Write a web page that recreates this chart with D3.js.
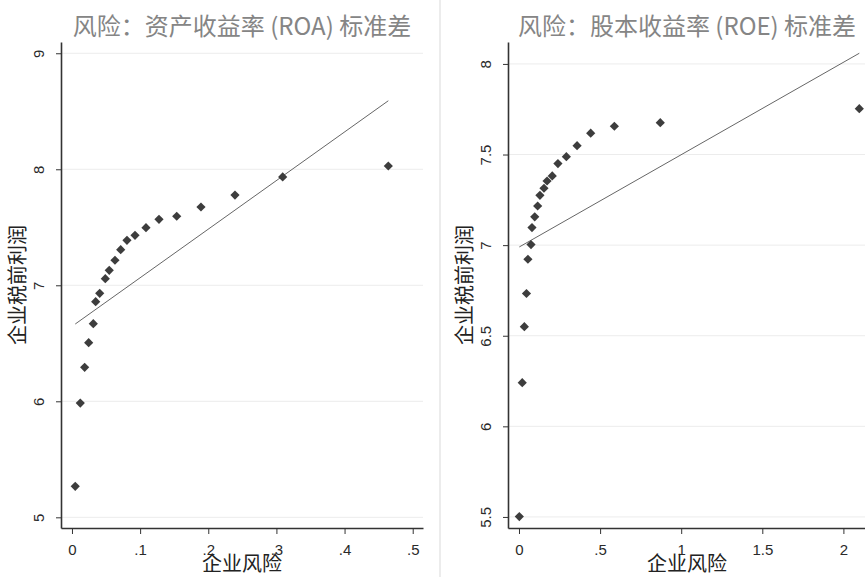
<!DOCTYPE html>
<html>
<head>
<meta charset="utf-8">
<script src="https://cdn.jsdelivr.net/npm/d3@7"></script>
<style>
  body { margin: 0; background: #fff; }
  svg { display: block; }
</style>
</head>
<body>
<svg id="chart" width="865" height="577"></svg>
<script>
// binned scatter
const roaRisk = [0.0048, 0.0122, 0.0186, 0.0245, 0.0313, 0.0348, 0.0407, 0.0489, 0.0547, 0.0631,
  0.0715, 0.0807, 0.0925, 0.1086, 0.1277, 0.1537, 0.1893, 0.2392, 0.3092, 0.4642];
const roaProfit = [5.267, 5.985, 6.293, 6.505, 6.669, 6.859, 6.931, 7.057, 7.129, 7.216,
  7.307, 7.388, 7.431, 7.497, 7.569, 7.595, 7.675, 7.778, 7.934, 8.028];
const roaFit = [6.646, 4.189]; // intercept, slope

const roeRisk = [0.002, 0.020, 0.033, 0.046, 0.055, 0.074, 0.080, 0.097, 0.115, 0.129,
  0.154, 0.173, 0.205, 0.240, 0.292, 0.358, 0.442, 0.588, 0.871, 2.098];
const roeProfit = [5.502, 6.241, 6.550, 6.733, 6.922, 7.003, 7.097, 7.156, 7.216, 7.275,
  7.314, 7.354, 7.382, 7.450, 7.488, 7.549, 7.618, 7.656, 7.676, 7.753];
const roeFit = [6.989, 0.510];

const titles = ["风险：资产收益率 (ROA) 标准差", "风险：股本收益率 (ROE) 标准差"];
const roaXTicks = [0, 0.1, 0.2, 0.3, 0.4, 0.5];
const roaYTicks = [5, 6, 7, 8, 9];
const roeXTicks = [0, 0.5, 1, 1.5, 2];
const roeYTicks = [5.5, 6, 6.5, 7, 7.5, 8];
const xTitle = "企业风险";
const yTitle = "企业税前利润";

const svg = d3.select("#chart");
const cjk = "'Noto Sans CJK SC', sans-serif";
const num = "'Liberation Sans', Arial, sans-serif";

// thin grey gap between the two graphs
svg.append("rect").attr("x", 439).attr("y", 0).attr("width", 2).attr("height", 577).attr("fill", "#ececec");

function fmt(d) {
  if (d === 0) return "0";
  return String(d).replace(/^0\./, ".");
}

function panel(o) {
  const x = d3.scaleLinear().domain(o.xDom).range([o.left, o.right]);
  const y = d3.scaleLinear().domain(o.yDom).range([528, 42]);
  const g = svg.append("g");

  // horizontal grid
  g.selectAll(".grid").data(o.yTicks).join("line")
    .attr("x1", o.left).attr("x2", o.right)
    .attr("y1", d => y(d)).attr("y2", d => y(d))
    .attr("stroke", "#ececec").attr("stroke-width", 1);

  // y axis, labels turned on their side like stata does
  const ya = g.append("g").attr("transform", `translate(${o.left},0)`)
    .call(d3.axisLeft(y).tickValues(o.yTicks).tickFormat(fmt).tickSize(5).tickSizeOuter(0));
  ya.select(".domain").attr("stroke", "#333").attr("stroke-width", 1.6);
  ya.selectAll(".tick line").attr("stroke", "#333");
  ya.selectAll(".tick text")
    .attr("x", null).attr("dy", null)
    .attr("transform", "translate(-22,0) rotate(-90)")
    .attr("dy", "0.36em")
    .attr("text-anchor", "middle")
    .style("font-family", num).style("font-size", "15px").attr("fill", "#2a2a2a");

  // x axis
  const xa = g.append("g").attr("transform", "translate(0,528)")
    .call(d3.axisBottom(x).tickValues(o.xTicks).tickFormat(fmt).tickSize(6).tickSizeOuter(0));
  xa.select(".domain").attr("stroke", "#333").attr("stroke-width", 1.6);
  xa.selectAll(".tick line").attr("stroke", "#333");
  xa.selectAll(".tick text").attr("y", 16)
    .style("font-family", num).style("font-size", "15px").attr("fill", "#2a2a2a");

  // fitted line
  const x0 = d3.min(o.xs), x1 = d3.max(o.xs);
  g.append("line")
    .attr("x1", x(x0)).attr("y1", y(o.fit[0] + o.fit[1] * x0))
    .attr("x2", x(x1)).attr("y2", y(o.fit[0] + o.fit[1] * x1))
    .attr("stroke", "#666").attr("stroke-width", 1);

  // diamonds
  const r = 4.6;
  g.selectAll(".pt").data(o.xs.map((d, i) => [d, o.ys[i]])).join("path")
    .attr("d", `M0,${-r}L${r},0L0,${r}L${-r},0Z`)
    .attr("transform", d => `translate(${x(d[0])},${y(d[1])})`)
    .attr("fill", "#3d3d3d");

  const cx = (o.left + o.right) / 2;
  svg.append("text").attr("x", cx).attr("y", 35)
    .attr("text-anchor", "middle")
    .style("font-family", cjk).style("font-size", "24px").attr("fill", "#858585")
    .text(o.title);

  svg.append("text").attr("x", cx).attr("y", 571)
    .attr("text-anchor", "middle")
    .style("font-family", cjk).style("font-size", "20px").attr("fill", "#222")
    .text(xTitle);

  svg.append("text")
    .attr("transform", `translate(${o.left - 36},285) rotate(-90)`)
    .attr("text-anchor", "middle")
    .style("font-family", cjk).style("font-size", "20px").attr("fill", "#222")
    .text(yTitle);
}

panel({
  left: 61, right: 423, xDom: [-0.0161, 0.5151], yDom: [4.908, 9.097],
  xs: roaRisk, ys: roaProfit, fit: roaFit,
  xTicks: roaXTicks, yTicks: roaYTicks, title: titles[0]
});

panel({
  left: 508, right: 866, xDom: [-0.0678, 2.1393], yDom: [5.439, 8.121],
  xs: roeRisk, ys: roeProfit, fit: roeFit,
  xTicks: roeXTicks, yTicks: roeYTicks, title: titles[1]
});
</script>
</body>
</html>
